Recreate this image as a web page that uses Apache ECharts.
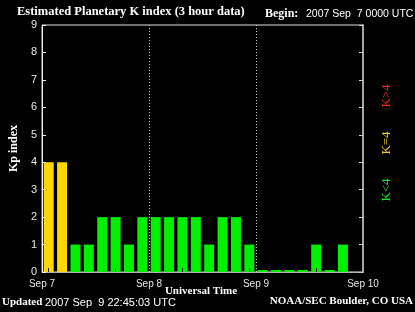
<!DOCTYPE html>
<html><head><meta charset="utf-8">
<script src="https://cdn.jsdelivr.net/npm/echarts@6/dist/echarts.min.js"></script>
<style>html,body{margin:0;padding:0;background:#000;}#c{width:415px;height:312px;}</style>
</head><body><div id="c"></div>
<script>
// 3-hour slots, Sep 7 00 UTC .. Sep 10 00 UTC
const slots = ['09-07 00','09-07 03','09-07 06','09-07 09','09-07 12','09-07 15','09-07 18','09-07 21',
               '09-08 00','09-08 03','09-08 06','09-08 09','09-08 12','09-08 15','09-08 18','09-08 21',
               '09-09 00','09-09 03','09-09 06','09-09 09','09-09 12','09-09 15','09-09 18','09-09 21'];
const kp = [4,4,1,1,2,2,1,2, 2,2,2,2,1,2,2,1, 0,0,0,0,1,0,1,null];
const dayLabels = ['Sep 7','Sep 8','Sep 9','Sep 10'];
const yTicks = [0,1,2,3,4,5,6,7,8,9];

const serif = '"Liberation Serif", "DejaVu Serif", serif';
const sans = '"Liberation Sans", "DejaVu Sans", sans-serif';

function barColor(v){ if (v > 4) return '#ff2a1a'; if (v === 4) return '#ffd700'; return '#00f000'; }

const chart = echarts.init(document.getElementById('c'), null, {renderer:'canvas'});
chart.setOption({
  backgroundColor:'#000',
  animation:false,
  grid:{left:37, right:52, top:25, bottom:40, show:true, borderColor:'#e0e0e0', borderWidth:1, backgroundColor:'transparent'},
  xAxis:[
    {type:'category', data:slots, boundaryGap:true, z:5,
     axisLine:{show:false}, axisLabel:{show:false},
     axisTick:{show:true, inside:true, length:4, alignWithLabel:true, lineStyle:{color:'#202020'}},
     splitLine:{show:false}},
    {type:'value', min:0, max:72, interval:24, position:'bottom', z:4,
     axisLine:{show:true, lineStyle:{color:'#b0b0b0', width:1}},
     axisTick:{show:false},
     axisLabel:{color:'#e6e6e6', fontFamily:sans, fontSize:10, margin:7,
       formatter:function(v){return dayLabels[Math.round(v/24)];}},
     splitLine:{show:true, lineStyle:{color:'#c8c8c8', type:[1,2], width:1}}}
  ],
  yAxis:[
    {type:'value', min:0, max:9, interval:1, position:'left', z:4,
     axisLine:{show:true, lineStyle:{color:'#f0f0f0'}},
     axisTick:{show:true, inside:true, length:4, lineStyle:{color:'#f0f0f0'}},
     axisLabel:{color:'#e6e6e6', fontFamily:sans, fontSize:11, margin:5,
       formatter:function(v){return String(yTicks[v]);}},
     splitLine:{show:false},
     name:'Kp index', nameLocation:'middle', nameGap:17, nameRotate:90,
     nameTextStyle:{color:'#fff', fontFamily:serif, fontWeight:'bold', fontSize:12}},
    {type:'value', min:0, max:9, interval:1, position:'right', z:4,
     axisLine:{show:true, lineStyle:{color:'#a8a8a8', width:2}},
     axisTick:{show:true, inside:true, length:4, lineStyle:{color:'#d0d0d0'}},
     axisLabel:{show:false}, splitLine:{show:false}}
  ],
  series:[{
    type:'bar', xAxisIndex:0, yAxisIndex:0, barWidth:10, barMinHeight:2,
    data:kp.map(function(v){ return v === null ? '-' : {value:v, itemStyle:{color:barColor(v)}}; })
  }],
  graphic:[
    {type:'text', left:17, top:5, style:{text:'Estimated Planetary K index (3 hour data)', fill:'#fff', font:'bold 12.5px '+serif}},
    {type:'text', left:265, top:8, style:{text:'Begin:', fill:'#fff', font:'bold 12px '+serif}},
    {type:'text', left:306, top:9, style:{text:'2007 Sep  7 0000 UTC', fill:'#fff', font:'10.5px '+sans}},
    {type:'text', x:201, y:291, style:{text:'Universal Time', fill:'#fff', font:'bold 11px '+serif, align:'center', verticalAlign:'middle'}},
    {type:'text', left:2, top:297, style:{text:'Updated', fill:'#fff', font:'bold 11px '+serif}},
    {type:'text', left:45, top:297, style:{text:'2007 Sep  9 22:45:03 UTC', fill:'#fff', font:'11px '+sans}},
    {type:'text', right:2, top:296, style:{text:'NOAA/SEC Boulder, CO USA', fill:'#fff', font:'bold 11px '+serif}},
    {type:'text', x:380, y:96, rotation:Math.PI/2, style:{text:'K>4', fill:'#ee2a1a', font:'13px '+serif, align:'center', verticalAlign:'top'}},
    {type:'text', x:380, y:143, rotation:Math.PI/2, style:{text:'K=4', fill:'#e8cc30', font:'13px '+serif, align:'center', verticalAlign:'top'}},
    {type:'text', x:380, y:190, rotation:Math.PI/2, style:{text:'K<4', fill:'#20e020', font:'13px '+serif, align:'center', verticalAlign:'top'}}
  ]
});
</script></body></html>
